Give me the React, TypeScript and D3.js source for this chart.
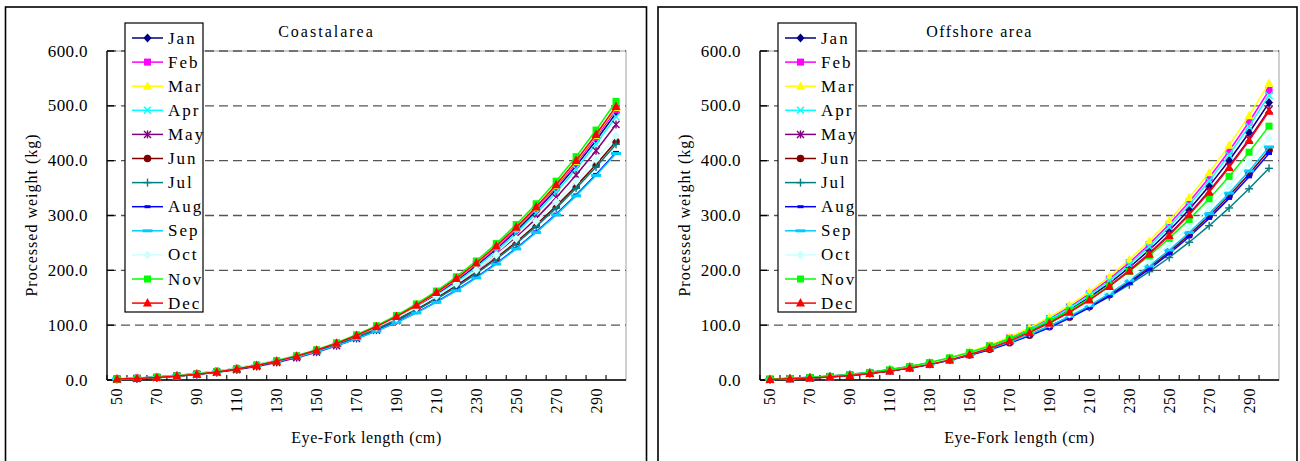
import React from "react";
import * as d3 from "d3";

// categories (eye-fork length, cm)
const lengths = [50, 60, 70, 80, 90, 100, 110, 120, 130, 140, 150, 160, 170, 180, 190, 200, 210, 220, 230, 240, 250, 260, 270, 280, 290, 300];
const xTickLabels = [50, 70, 90, 110, 130, 150, 170, 190, 210, 230, 250, 270, 290];
const yTicks = [0, 100, 200, 300, 400, 500, 600];
const months = ["Jan", "Feb", "Mar", "Apr", "May", "Jun", "Jul", "Aug", "Sep", "Oct", "Nov", "Dec"];
const colors = ["#000080", "#FF00FF", "#FFFF00", "#00FFFF", "#800080", "#800000", "#008080", "#0000FF", "#00CCFF", "#CCFFFF", "#00FF00", "#FF0000"];
const shapes = ["diamond", "square", "triangle", "x", "star", "circle", "plus", "dash", "longdash", "diamond", "square", "triangle"];

// Coastal area
const coastJan = [1.6, 2.8, 4.6, 7.1, 10.3, 14.5, 19.7, 26.0, 33.5, 42.5, 53.0, 65.2, 79.1, 95.0, 112.9, 133.1, 155.6, 180.5, 208.1, 238.5, 271.7, 308.1, 347.6, 390.5, 436.9, 487.0];
const coastFeb = [1.6, 2.9, 4.7, 7.2, 10.5, 14.7, 19.9, 26.3, 33.9, 43.0, 53.7, 66.0, 80.1, 96.2, 114.3, 134.7, 157.5, 182.8, 210.7, 241.4, 275.1, 311.9, 351.9, 395.3, 442.3, 493.0];
const coastMar = [1.6, 2.9, 4.7, 7.2, 10.5, 14.8, 20.0, 26.5, 34.2, 43.4, 54.1, 66.5, 80.7, 96.9, 115.2, 135.8, 158.7, 184.2, 212.4, 243.4, 277.3, 314.4, 354.7, 398.5, 445.9, 497.0];
const coastApr = [1.6, 2.8, 4.6, 7.0, 10.2, 14.3, 19.4, 25.6, 33.0, 41.9, 52.2, 64.2, 78.0, 93.6, 111.3, 131.2, 153.3, 177.9, 205.2, 235.1, 267.8, 303.7, 342.6, 384.9, 430.6, 480.0];
const coastMay = [1.5, 2.7, 4.4, 6.8, 9.9, 13.9, 18.8, 24.8, 32.1, 40.7, 50.7, 62.3, 75.7, 90.9, 108.0, 127.3, 148.8, 172.8, 199.2, 228.2, 260.0, 294.8, 332.6, 373.7, 418.1, 466.0];
const coastJun = [2.0, 3.5, 5.5, 8.3, 11.8, 16.1, 21.4, 27.8, 35.4, 44.2, 54.4, 66.0, 79.2, 94.0, 110.5, 128.9, 149.2, 171.6, 196.0, 222.7, 251.7, 283.2, 317.1, 353.6, 393.0, 435.0];
const coastJul = [2.0, 3.4, 5.5, 8.2, 11.6, 15.9, 21.2, 27.5, 35.0, 43.7, 53.8, 65.2, 78.2, 92.9, 109.2, 127.4, 147.5, 169.6, 193.8, 220.2, 248.8, 279.9, 313.5, 349.6, 388.5, 430.0];
const coastAug = [1.9, 3.3, 5.3, 7.9, 11.2, 15.4, 20.5, 26.6, 33.8, 42.2, 51.9, 63.0, 75.5, 89.6, 105.4, 123.0, 142.4, 163.7, 187.0, 212.5, 240.2, 270.2, 302.5, 337.4, 374.9, 415.0];
const coastSep = [1.9, 3.3, 5.2, 7.8, 11.2, 15.3, 20.4, 26.4, 33.6, 42.0, 51.6, 62.7, 75.2, 89.2, 104.9, 122.4, 141.7, 162.9, 186.1, 211.5, 239.0, 268.9, 301.1, 335.8, 373.1, 413.0];
const coastOct = [2.1, 3.6, 5.7, 8.4, 12.0, 16.5, 21.9, 28.5, 36.2, 45.2, 55.6, 67.5, 81.0, 96.1, 113.1, 131.9, 152.6, 175.5, 200.5, 227.8, 257.5, 289.7, 324.4, 361.8, 402.0, 445.0];
const coastNov = [1.6, 2.9, 4.8, 7.4, 10.8, 15.1, 20.5, 27.1, 35.0, 44.3, 55.3, 68.0, 82.5, 99.1, 117.8, 138.8, 162.3, 188.3, 217.1, 248.8, 283.5, 321.4, 362.6, 407.3, 455.8, 508.0];
const coastDec = [1.6, 2.9, 4.7, 7.3, 10.6, 14.8, 20.1, 26.6, 34.4, 43.5, 54.3, 66.8, 81.1, 97.3, 115.7, 136.3, 159.4, 185.0, 213.3, 244.4, 278.4, 315.7, 356.2, 400.1, 447.7, 499.0];

// Offshore area
const offJan = [1.1, 2.1, 3.6, 5.7, 8.4, 12.1, 16.7, 22.4, 29.5, 37.9, 47.9, 59.7, 73.4, 89.1, 107.1, 127.5, 150.5, 176.3, 205.1, 237.0, 272.2, 311.1, 353.6, 400.2, 450.9, 506.0];
const offFeb = [1.2, 2.2, 3.7, 5.9, 8.8, 12.6, 17.4, 23.4, 30.8, 39.5, 50.0, 62.3, 76.6, 93.0, 111.7, 133.0, 157.0, 184.0, 214.0, 247.3, 284.1, 324.6, 369.0, 417.6, 470.5, 528.0];
const offMar = [1.2, 2.3, 3.8, 6.0, 9.0, 12.9, 17.9, 24.0, 31.5, 40.5, 51.3, 63.8, 78.4, 95.3, 114.5, 136.3, 160.9, 188.5, 219.3, 253.4, 291.1, 332.6, 378.1, 427.9, 482.1, 541.0];
const offApr = [1.2, 2.2, 3.7, 5.8, 8.7, 12.4, 17.1, 23.0, 30.2, 38.9, 49.2, 61.2, 75.3, 91.4, 109.8, 130.8, 154.4, 180.8, 210.4, 243.1, 279.2, 319.1, 362.7, 410.5, 462.5, 519.0];
const offMay = [1.1, 2.1, 3.5, 5.5, 8.2, 11.8, 16.3, 21.9, 28.7, 36.9, 46.7, 58.2, 71.5, 86.8, 104.3, 124.2, 146.6, 171.8, 199.8, 230.9, 265.2, 303.1, 344.5, 389.9, 439.3, 493.0];
const offJun = [1.4, 2.4, 4.0, 6.1, 8.9, 12.5, 16.9, 22.3, 28.8, 36.6, 45.6, 56.1, 68.1, 81.7, 97.1, 114.5, 133.8, 155.3, 179.1, 205.2, 233.8, 265.1, 299.1, 336.0, 375.9, 419.0];
const offJul = [1.8, 3.1, 4.9, 7.3, 10.4, 14.3, 19.0, 24.7, 31.4, 39.2, 48.3, 58.6, 70.2, 83.4, 98.1, 114.4, 132.4, 152.2, 173.9, 197.6, 223.4, 251.3, 281.4, 313.8, 348.7, 386.0];
const offAug = [1.3, 2.4, 3.9, 6.0, 8.8, 12.3, 16.7, 22.0, 28.4, 36.0, 45.0, 55.3, 67.1, 80.6, 95.7, 112.8, 131.9, 153.1, 176.5, 202.2, 230.5, 261.3, 294.8, 331.2, 370.5, 413.0];
const offSep = [1.4, 2.5, 4.0, 6.2, 9.0, 12.6, 17.1, 22.6, 29.3, 37.1, 46.3, 56.9, 69.0, 82.9, 98.5, 116.1, 135.8, 157.6, 181.7, 208.1, 237.1, 268.9, 303.4, 340.8, 381.3, 425.0];
const offOct = [1.4, 2.6, 4.2, 6.4, 9.4, 13.1, 17.8, 23.5, 30.4, 38.5, 48.0, 59.0, 71.6, 86.0, 102.2, 120.5, 140.9, 163.5, 188.5, 216.0, 246.1, 279.0, 314.8, 353.6, 395.7, 441.0];
const offNov = [1.5, 2.7, 4.4, 6.7, 9.8, 13.8, 18.7, 24.7, 31.9, 40.4, 50.4, 61.9, 75.2, 90.3, 107.3, 126.5, 147.9, 171.6, 197.9, 226.7, 258.3, 292.9, 330.5, 371.3, 415.4, 463.0];
const offDec = [1.1, 2.1, 3.5, 5.5, 8.2, 11.7, 16.2, 21.7, 28.5, 36.7, 46.4, 57.8, 71.1, 86.3, 103.7, 123.5, 145.7, 170.7, 198.6, 229.5, 263.6, 301.3, 342.4, 387.5, 436.6, 490.0];

const coastal = [coastJan, coastFeb, coastMar, coastApr, coastMay, coastJun, coastJul, coastAug, coastSep, coastOct, coastNov, coastDec];
const offshore = [offJan, offFeb, offMar, offApr, offMay, offJun, offJul, offAug, offSep, offOct, offNov, offDec];

const FONT = "Times New Roman, Liberation Serif, DejaVu Serif, Noto Serif, serif";

const plotW = 519;
const plotTop = 51;
const plotBottom = 380;

function Marker({ shape, color, x, y }: { shape: string; color: string; x: number; y: number }) {
  switch (shape) {
    case "diamond":
      return <path d={`M${x},${y - 4.5}L${x + 4},${y}L${x},${y + 4.5}L${x - 4},${y}Z`} fill={color} />;
    case "square":
      return <rect x={x - 3.5} y={y - 3.5} width={7} height={7} fill={color} />;
    case "triangle":
      return <path d={`M${x},${y - 5}L${x + 4.5},${y + 3.5}L${x - 4.5},${y + 3.5}Z`} fill={color} />;
    case "x":
      return (
        <g stroke={color} strokeWidth={1.4}>
          <line x1={x - 3.5} y1={y - 3.5} x2={x + 3.5} y2={y + 3.5} />
          <line x1={x - 3.5} y1={y + 3.5} x2={x + 3.5} y2={y - 3.5} />
        </g>
      );
    case "star":
      return (
        <g stroke={color} strokeWidth={1.4}>
          <line x1={x - 3.5} y1={y - 3.5} x2={x + 3.5} y2={y + 3.5} />
          <line x1={x - 3.5} y1={y + 3.5} x2={x + 3.5} y2={y - 3.5} />
          <line x1={x} y1={y - 4} x2={x} y2={y + 4} />
        </g>
      );
    case "circle":
      return <circle cx={x} cy={y} r={3.8} fill={color} />;
    case "plus":
      return (
        <g stroke={color} strokeWidth={1.4}>
          <line x1={x - 4} y1={y} x2={x + 4} y2={y} />
          <line x1={x} y1={y - 4} x2={x} y2={y + 4} />
        </g>
      );
    case "dash":
      return <line x1={x - 3} y1={y} x2={x + 3} y2={y} stroke={color} strokeWidth={3} />;
    case "longdash":
      return <line x1={x - 5} y1={y} x2={x + 5} y2={y} stroke={color} strokeWidth={3} />;
    default:
      return null;
  }
}

function Panel({ left, title, series, titleSpacing }: { left: number; title: string; series: number[][]; titleSpacing: number }) {
  const x = d3.scaleBand<number>().domain(lengths).range([0, plotW]);
  const y = d3.scaleLinear().domain([0, 600]).range([plotBottom, plotTop]);
  const cx = (d: number) => (x(d) as number) + x.bandwidth() / 2;
  const line = d3
    .line<number>()
    .x((d, i) => cx(lengths[i]))
    .y((d) => y(d));

  const legX = 18;
  const legY = 23;
  const rowH = 24.1;

  return (
    <g transform={`translate(${left},0)`} style={{ fontFamily: FONT }}>
      {/* plot frame */}
      <rect x={0} y={plotTop} width={plotW} height={plotBottom - plotTop} fill="none" stroke="#a0a0a0" strokeWidth={1} />
      {yTicks.slice(1).map((t) => (
        <line key={t} x1={0} x2={plotW} y1={y(t)} y2={y(t)} stroke="#555" strokeWidth={1.3} strokeDasharray="9,5" />
      ))}
      {/* axes */}
      <line x1={0} x2={0} y1={plotTop} y2={plotBottom} stroke="#000" strokeWidth={1.3} />
      <line x1={0} x2={plotW} y1={plotBottom} y2={plotBottom} stroke="#000" strokeWidth={1.3} />
      {yTicks.map((t) => (
        <g key={t}>
          <line x1={0} x2={7} y1={y(t)} y2={y(t)} stroke="#000" strokeWidth={1.3} />
          <text x={-19} y={y(t) + 5.5} textAnchor="end" fontSize={17} letterSpacing={0.4}>
            {t.toFixed(1)}
          </text>
        </g>
      ))}
      {lengths.map((l) => (
        <line key={l} x1={x(l) as number} x2={x(l) as number} y1={plotBottom} y2={plotBottom - 5} stroke="#000" strokeWidth={1.1} />
      ))}
      {xTickLabels.map((l) => (
        <text key={l} transform={`translate(${cx(l) + 5.5},388) rotate(-90)`} textAnchor="end" fontSize={16} letterSpacing={0.5}>
          {l}
        </text>
      ))}
      {/* series */}
      {series.map((s, k) => (
        <g key={months[k]}>
          <path d={line(s) as string} fill="none" stroke={colors[k]} strokeWidth={1.5} />
          {s.map((v, i) => (
            <Marker key={i} shape={shapes[k]} color={colors[k]} x={cx(lengths[i])} y={y(v)} />
          ))}
        </g>
      ))}
      {/* titles */}
      <text x={219.5} y={37} textAnchor="middle" fontSize={16} letterSpacing={titleSpacing}>
        {title}
      </text>
      <text transform={`translate(-70,215) rotate(-90)`} textAnchor="middle" fontSize={16} letterSpacing={1}>
        Processed weight (kg)
      </text>
      <text x={plotW / 2} y={443} textAnchor="middle" fontSize={16} letterSpacing={0.6}>
        Eye-Fork length (cm)
      </text>
      {/* legend */}
      <rect x={legX} y={legY} width={78} height={289} fill="#fff" stroke="#000" strokeWidth={1.2} />
      {months.map((m, k) => {
        const ry = legY + 15 + k * rowH;
        return (
          <g key={m}>
            <line x1={legX + 7} x2={legX + 38} y1={ry} y2={ry} stroke={colors[k]} strokeWidth={1.5} />
            <Marker shape={shapes[k]} color={colors[k]} x={legX + 22.5} y={ry} />
            <text x={legX + 43} y={ry + 5.5} fontSize={17} letterSpacing={2}>
              {m}
            </text>
          </g>
        );
      })}
    </g>
  );
}

export default function App() {
  return (
    <svg width={1300} height={461} style={{ position: "absolute", left: 0, top: 0, background: "#fff" }}>
      <rect x={5.5} y={7} width={641} height={470} fill="#fff" stroke="#000" strokeWidth={1.6} />
      <rect x={658} y={7} width={639} height={470} fill="#fff" stroke="#000" strokeWidth={1.6} />
      <Panel left={107} title="Coastalarea" series={coastal} titleSpacing={2} />
      <Panel left={760} title="Offshore area" series={offshore} titleSpacing={1.5} />
    </svg>
  );
}
